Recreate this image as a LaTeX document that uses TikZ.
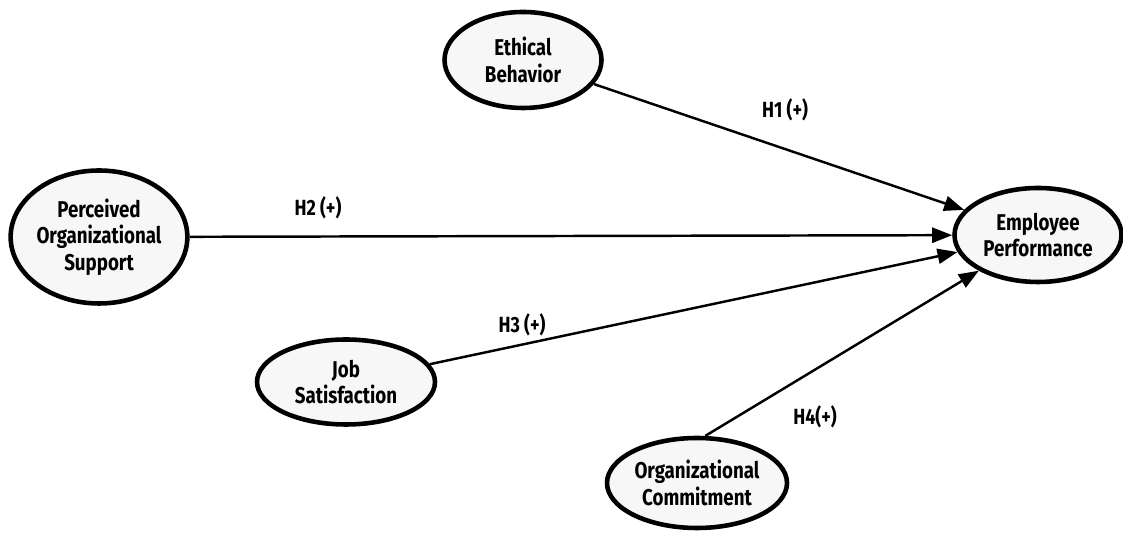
\documentclass[tikz,border=0pt]{standalone}
\usepackage{fontspec}
\setmainfont{Fira Sans}[FakeStretch=0.82]
\usetikzlibrary{arrows.meta,shapes.geometric}

\begin{document}
\begin{tikzpicture}[
    construct/.style={draw, ellipse, line width=2.6pt, fill=gray!6, inner sep=0pt, align=center, font=\fontsize{13}{15}\selectfont\bfseries},
    arrow/.style={-{Triangle[length=4mm, width=3mm]}, line width=1.4pt},
    hyp/.style={font=\fontsize{12.5}{14}\selectfont\bfseries}
]
\useasboundingbox (0,0) rectangle (22.46,10.66);
\node[construct, minimum width=3.14cm, minimum height=1.92cm] (eb) at (10.46,9.46) {Ethical\\Behavior};
\node[construct, minimum width=3.44cm, minimum height=2.66cm] (pos) at (1.98,5.92) {Perceived\\Organizational\\Support};
\node[construct, minimum width=3.34cm, minimum height=1.88cm] (ep) at (20.76,5.96) {Employee\\Performance};
\node[construct, minimum width=3.56cm, minimum height=1.70cm] (js) at (6.92,3.02) {Job\\Satisfaction};
\node[construct, minimum width=3.60cm, minimum height=1.80cm] (oc) at (13.94,1.00) {Organizational\\Commitment};

\draw[arrow] (eb) -- (ep);
\draw[arrow] (pos) -- (ep);
\draw[arrow] (js) -- (ep);
\draw[arrow] (oc.80) -- (ep);

% hypothesis labels
\node[hyp] (h1) at (15.70,8.46) {H1 (+)};
\node[hyp] (h2) at (6.36,6.50) {H2 (+)};
\node[hyp] (h3) at (10.44,4.16) {H3 (+)};
\node[hyp] (h4) at (16.30,2.32) {H4(+)};
\end{tikzpicture}
\end{document}
